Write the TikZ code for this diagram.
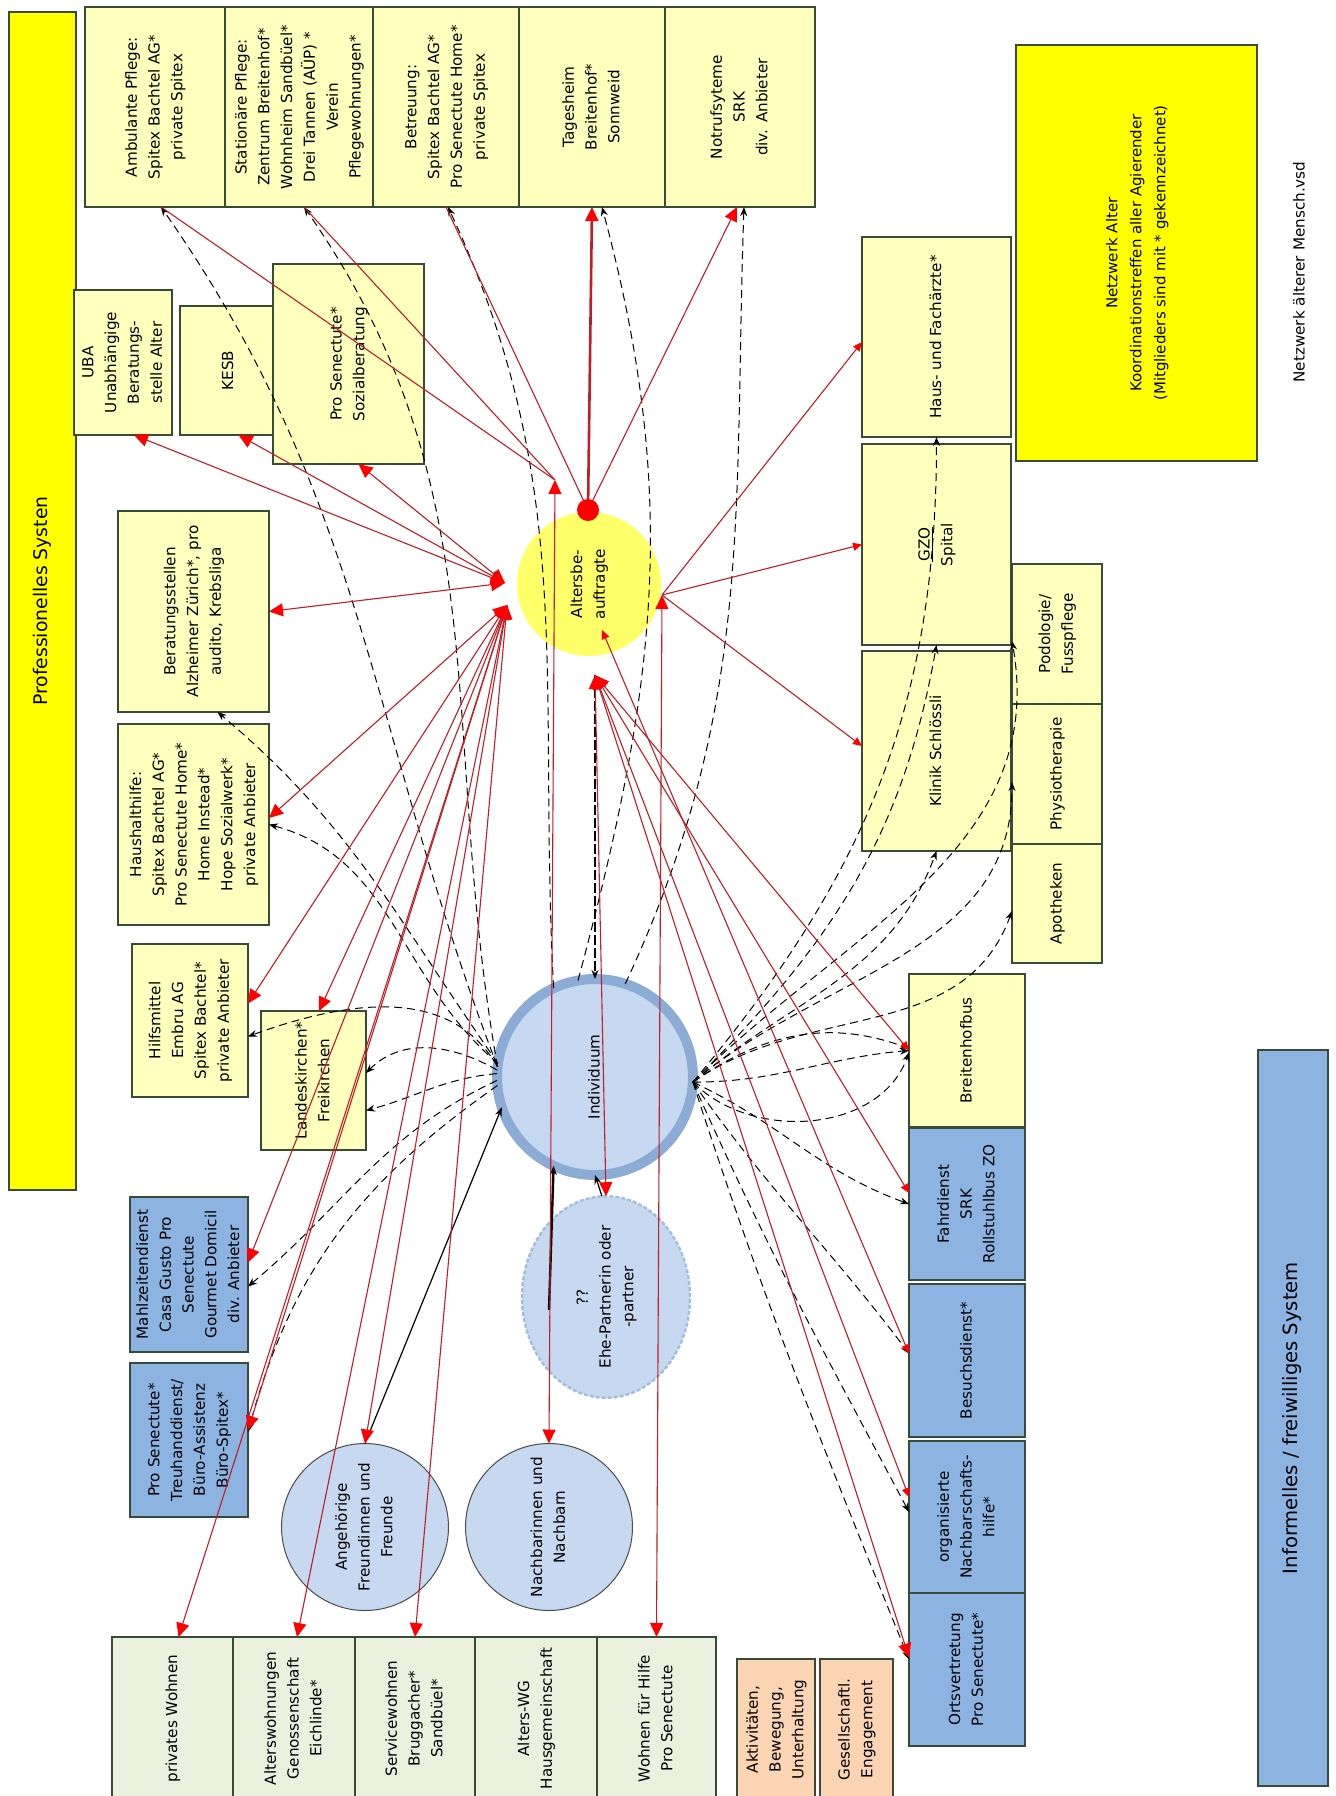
\documentclass[tikz,border=0pt]{standalone}
\usepackage{fontspec}
\usepackage{graphicx}
\setmainfont{DejaVu Sans}
\usetikzlibrary{arrows.meta,shapes.geometric,calc}
\definecolor{lyel}{RGB}{255,255,190}
\definecolor{byel}{RGB}{255,255,0}
\definecolor{mblue}{RGB}{141,179,226}
\definecolor{lblue}{RGB}{198,217,241}
\definecolor{ringb}{RGB}{140,172,214}
\definecolor{lgrn}{RGB}{235,241,222}
\definecolor{peach}{RGB}{251,212,180}
\definecolor{bline}{RGB}{55,75,55}
\definecolor{rcol}{RGB}{190,30,40}
\definecolor{aelc}{RGB}{255,255,105}
\newcommand{\rtxt}[1]{\rotatebox{90}{\begin{tabular}{@{}c@{}}#1\end{tabular}}}
\begin{document}
\begin{tikzpicture}[x=0.5pt,y=-0.5pt,
  bx/.style={draw=bline,line width=0.6pt,inner sep=0pt,outer sep=0pt,font=\fontsize{7.6}{11.4}\selectfont},
  rl/.style={draw=rcol,line width=0.55pt},
  dl/.style={draw=black,line width=0.5pt,dash pattern=on 4pt off 2.5pt},
  bl/.style={draw=black,line width=0.6pt},
  thd/.style={draw=black,line width=1.4pt,dash pattern=on 5pt off 1.5pt},
  ctext/.style={inner sep=0pt,font=\fontsize{7.6}{11.4}\selectfont},
  rtp/.tip={Triangle[length=7pt,width=6.5pt,color=red,fill=red]},
  rts/.tip={Triangle[length=4.5pt,width=4pt,color=red,fill=red]},
  btp/.tip={Stealth[length=4.5pt,width=3.5pt,color=black,fill=black]}
]
\useasboundingbox (0,0) rectangle (1335,1796);
\fill[white] (0,0) rectangle (1335,1796);

% professional bar
\node[bx,fill=byel,minimum width=33.5pt,minimum height=589pt,font=\fontsize{9.4}{12}\selectfont] (prof) at (42.5,601) {\rtxt{Professionelles Systen}};

% top row
\node[bx,fill=lyel,minimum width=70pt,minimum height=100pt] (amb) at (155,107) {\rtxt{Ambulante Pflege:\\Spitex Bachtel AG*\\private Spitex}};
\node[bx,fill=lyel,minimum width=74pt,minimum height=100pt] (stat) at (299,107) {\rtxt{Stationäre Pflege:\\Zentrum Breitenhof*\\Wohnheim Sandbüel*\\Drei Tannen (AÜP) *\\Verein\\Pflegewohnungen*}};
\node[bx,fill=lyel,minimum width=73pt,minimum height=100pt] (betr) at (446,107) {\rtxt{Betreuung:\\Spitex Bachtel AG*\\Pro Senectute Home*\\private Spitex}};
\node[bx,fill=lyel,minimum width=73pt,minimum height=100pt] (tag) at (592,107) {\rtxt{Tagesheim\\Breitenhof*\\Sonnweid}};
\node[bx,fill=lyel,minimum width=75pt,minimum height=100pt] (notr) at (740,107) {\rtxt{Notrufsyteme\\SRK\\div. Anbieter}};

% left middle
\node[bx,fill=lyel,minimum width=49pt,minimum height=72.5pt] (uba) at (123,362.5) {\rtxt{UBA\\Unabhängige\\Beratungs-\\stelle Alter}};
\node[bx,fill=lyel,minimum width=48.5pt,minimum height=64.5pt] (kesb) at (228.5,370.5) {\rtxt{KESB}};
\node[bx,fill=lyel,minimum width=75.5pt,minimum height=100pt] (soz) at (348.5,364) {\rtxt{Pro Senectute*\\Sozialberatung}};
\node[bx,fill=lyel,minimum width=75.5pt,minimum height=100.5pt] (berat) at (193.5,611.5) {\rtxt{Beratungsstellen\\Alzheimer Zürich*, pro\\audito, Krebsliga}};
\node[bx,fill=lyel,minimum width=75.5pt,minimum height=100.5pt] (haush) at (193.5,824.5) {\rtxt{Haushalthilfe:\\Spitex Bachtel AG*\\Pro Senectute Home*\\Home Instead*\\Hope Sozialwerk*\\private Anbieter}};
\node[bx,fill=lyel,minimum width=58pt,minimum height=76.5pt] (hilfs) at (190,1020.5) {\rtxt{Hilfsmittel\\Embru AG\\Spitex Bachtel*\\private Anbieter}};
\node[bx,fill=lyel,minimum width=52.5pt,minimum height=69.5pt] (landk) at (313.5,1080.5) {\rtxt{Landeskirchen*\\Freikirchen}};
\node[bx,fill=mblue,minimum width=59pt,minimum height=77.5pt] (mahl) at (189,1274.5) {\rtxt{Mahlzeitendienst\\Casa Gusto Pro\\Senectute\\Gourmet Domicil\\div. Anbieter}};
\node[bx,fill=mblue,minimum width=59pt,minimum height=77pt] (treu) at (189,1440) {\rtxt{Pro Senectute*\\Treuhanddienst/\\Büro-Assistenz\\Büro-Spitex*}};

% bottom row
\node[bx,fill=lgrn,minimum width=60.5pt,minimum height=81.5pt] (privw) at (172.5,1718.5) {\rtxt{privates Wohnen}};
\node[bx,fill=lgrn,minimum width=61pt,minimum height=81.5pt] (altw) at (294,1718.5) {\rtxt{Alterswohnungen\\Genossenschaft\\Eichlinde*}};
\node[bx,fill=lgrn,minimum width=60pt,minimum height=81.5pt] (servw) at (415,1718.5) {\rtxt{Servicewohnen\\Bruggacher*\\Sandbüel*}};
\node[bx,fill=lgrn,minimum width=61pt,minimum height=81.5pt] (wg) at (536,1718.5) {\rtxt{Alters-WG\\Hausgemeinschaft}};
\node[bx,fill=lgrn,minimum width=59.5pt,minimum height=81.5pt] (wfh) at (656.5,1718.5) {\rtxt{Wohnen für Hilfe\\Pro Senectute}};
\node[bx,fill=peach,minimum width=39pt,minimum height=70.5pt] (akt) at (776,1729.5) {\rtxt{Aktivitäten,\\Bewegung,\\Unterhaltung}};
\node[bx,fill=peach,minimum width=36.5pt,minimum height=70.5pt] (ges) at (856.5,1729.5) {\rtxt{Gesellschaftl.\\Engagement}};

% right column
\node[bx,fill=lyel,minimum width=58pt,minimum height=76.5pt] (bbus) at (967,1050.5) {\rtxt{Breitenhofbus}};
\node[bx,fill=mblue,minimum width=58pt,minimum height=76pt] (fahr) at (967,1204) {\rtxt{Fahrdienst\\SRK\\Rollstuhlbus ZO}};
\node[bx,fill=mblue,minimum width=58pt,minimum height=76.5pt] (besu) at (967,1360.5) {\rtxt{Besuchsdienst*}};
\node[bx,fill=mblue,minimum width=58pt,minimum height=76pt] (onh) at (967,1517) {\rtxt{organisierte\\Nachbarschafts-\\hilfe*}};
\node[bx,fill=mblue,minimum width=58pt,minimum height=76.5pt] (orts) at (967,1669.5) {\rtxt{Ortsvertretung\\Pro Senectute*}};
\node[bx,fill=mblue,minimum width=35pt,minimum height=368pt,font=\fontsize{9.8}{12}\selectfont] (info) at (1293,1418) {\rtxt{Informelles / freiwilliges System}};

% medical
\node[bx,fill=lyel,minimum width=74.5pt,minimum height=100pt] (aerz) at (936.5,337) {\rtxt{Haus- und Fachärzte*}};
\node[bx,fill=lyel,minimum width=74.5pt,minimum height=100.5pt] (gzo) at (936.5,544.5) {\rtxt{\underline{GZO}\\Spital}};
\node[bx,fill=lyel,minimum width=74.5pt,minimum height=100pt] (klin) at (936.5,751) {\rtxt{Klinik Schlössli}};
\node[bx,fill=lyel,minimum width=45pt,minimum height=70pt] (podo) at (1057,634) {\rtxt{Podologie/\\Fusspflege}};
\node[bx,fill=lyel,minimum width=45pt,minimum height=70pt] (phys) at (1057,774) {\rtxt{Physiotherapie}};
\node[bx,fill=lyel,minimum width=45pt,minimum height=59.5pt] (apo) at (1057,903.5) {\rtxt{Apotheken}};
\node[bx,fill=byel,minimum width=120.5pt,minimum height=208pt,font=\fontsize{7.5}{12}\selectfont] (netz) at (1136.5,253) {\rtxt{Netzwerk Alter\\Koordinationstreffen aller Agierender\\(Mitglieders sind mit * gekennzeichnet)}};
\node[ctext] (vsd) at (1300,272) {\rtxt{Netzwerk älterer Mensch.vsd}};

% circles
\node[circle,fill=aelc,minimum size=72pt,inner sep=0pt,outer sep=0pt,font=\fontsize{7.6}{11.4}\selectfont] (aelt) at (589,584) {\rtxt{Altersbe-\\auftragte}};
\node[circle,draw=ringb,line width=5pt,fill=lblue,minimum size=98pt,inner sep=0pt,outer sep=0pt,font=\fontsize{7.6}{11.4}\selectfont] (indiv) at (595,1077) {\rtxt{Individuum}};
\node[ellipse,draw=ringb!80,fill=lblue,line width=1.2pt,dash pattern=on 2pt off 1pt,minimum width=84pt,minimum height=90pt,inner sep=0pt,outer sep=0pt,font=\fontsize{7.6}{11.4}\selectfont] (ehe) at (606,1297) {\rtxt{??\\Ehe-Partnerin oder\\-partner}};
\node[circle,draw=black!70,fill=lblue,line width=0.5pt,minimum size=83.5pt,inner sep=0pt,outer sep=0pt,font=\fontsize{7.6}{11.4}\selectfont] (angeh) at (365,1527) {\rtxt{Angehörige\\Freundinnen und\\Freunde}};
\node[circle,draw=black!70,fill=lblue,line width=0.5pt,minimum size=83.5pt,inner sep=0pt,outer sep=0pt,font=\fontsize{7.6}{11.4}\selectfont] (nachb) at (549,1527) {\rtxt{Nachbarinnen und\\Nachbarn}};

% hubs
\coordinate (hTL) at (555,480);
\coordinate (hL1) at (505,583);
\coordinate (hL2) at (507,605);
\coordinate (hB) at (595,675);
\coordinate (hR) at (662,595);
\coordinate (hIn) at (602,630);
\coordinate (nbk) at (549,1310);

% black solid / thick dashed
\draw[bl,line width=1.2pt,-btp] (nbk) -- (indiv.245);
\draw[bl,-btp] (angeh.north) -- (indiv.198);
\draw[bl,-btp] ([xshift=-2pt]ehe.north) -- (indiv.-90);
\draw[thd,-btp] (hB) -- (indiv.north);

% dashed, left and top
\draw[dl,-btp] (indiv.174) to[out=111,in=-55] ([xshift=3pt]amb.south);
\draw[dl,-btp] (indiv.174) to[out=100,in=-55] ([xshift=2.5pt]stat.south);
\draw[dl,-btp] (indiv.115) to[out=93,in=-65] ([xshift=1pt]betr.south);
\draw[dl,-btp] (indiv.100) to[out=75,in=-75] ([xshift=5pt]tag.south);
\draw[dl,-btp] (indiv.72) to[out=65,in=-92] ([xshift=2pt]notr.south);
\draw[dl,-btp] (indiv.172) to[out=125,in=-40] ([xshift=12pt]berat.south);
\draw[dl,-btp] (indiv.172) to[out=140,in=-15] (haush.east);
\draw[dl,-btp] (indiv.174) to[out=120,in=20] ([yshift=-8pt]hilfs.east);
\draw[dl,-btp] (indiv.176) to[out=150,in=45] ([yshift=3.75pt]landk.east);
\draw[dl,-btp] (indiv.178) to[out=185,in=15] ([yshift=-15pt]landk.east);
\draw[dl,-btp] (indiv.182) to[out=205,in=40] ([yshift=-6pt]mahl.east);
\draw[dl,-btp] (indiv.185) to[out=215,in=75] ([yshift=4pt]treu.east);

% dashed, right
\draw[dl,-btp] (indiv.-3) to[out=50,in=-90] (aerz.south);
\draw[dl,-btp] (indiv.-3) to[out=45,in=-100] (gzo.south);
\draw[dl,-btp] (indiv.-3) to[out=40,in=-110] (klin.south);
\draw[dl,-btp] (indiv.-3) to[out=45,in=-80] ([yshift=-3.5pt]podo.west);
\draw[dl,-btp] (indiv.-3) to[out=40,in=-90] ([yshift=-4pt]phys.west);
\draw[dl,-btp] (indiv.-3) to[out=35,in=-110] ([yshift=-3.75pt]apo.west);
\draw[dl,-btp] (indiv.-3) to[out=35,in=160] ([yshift=1pt]bbus.west);
\draw[dl,-btp] (indiv.-3) to[out=0,in=185] (bbus.west);
\draw[dl,-btp] (indiv.-3) to[out=-45,in=-110] ([yshift=-1pt]bbus.west);
\draw[dl,-btp] (indiv.-3) to[out=-25,in=160] (fahr.west);
\draw[dl,-btp] (indiv.-3) to[out=-55,in=127] ([yshift=3.5pt]besu.west);
\draw[dl,-btp] (indiv.-3) to[out=-66,in=118] ([yshift=2.5pt]onh.west);
\draw[dl,-btp] (indiv.-3) to[out=-72,in=112] ([yshift=5pt]orts.west);

% red dot
\node[circle,fill=red,minimum size=11pt,inner sep=0pt,outer sep=0pt] (rdot) at (588,510) {};

% red connectors
\draw[rl,line width=1.3pt,-rtp] (rdot) -- (tag.south);
\draw[rl] (rdot) -- (betr.south);
\draw[rl,-rtp] (rdot) -- ([xshift=-1.5pt]notr.south);

\draw[rl] (hTL) -- ([xshift=3pt]amb.south);
\draw[rl] (hTL) -- ([xshift=2.5pt]stat.south);
\draw[rl,rtp-rtp] (hTL) -- (nachb.north);

\draw[rl,rtp-rtp] (hL1) -- ([xshift=5.5pt]uba.south);
\draw[rl,rtp-rtp] (hL1) -- ([xshift=5pt]kesb.south);
\draw[rl,rtp-rtp] (hL1) -- ([xshift=5pt]soz.south);
\draw[rl,rtp-rtp] (hL1) -- (berat.east);

\draw[rl,rtp-rtp] (hL2) -- ([yshift=3.25pt]haush.east);
\draw[rl,rtp-rtp] (hL2) -- ([yshift=8.5pt]hilfs.east);
\draw[rl,rtp-rtp] (hL2) -- ([xshift=2.75pt]landk.north);
\draw[rl,rtp-rtp] (hL2) -- ([yshift=6pt]mahl.east);
\draw[rl,rtp-rtp] (hL2) -- ([yshift=5pt]treu.east);
\draw[rl,rtp-rtp] (hL2) -- (angeh.north);
\draw[rl,rtp-rtp] (hL2) -- ([xshift=3pt]privw.north);
\draw[rl,rtp-rtp] (hL2) -- ([xshift=1.5pt]altw.north);
\draw[rl,rtp-rtp] (hL2) -- (servw.north);

\draw[rl,rtp-rtp] (hB) -- (ehe.north);
\draw[rl,rtp-rts] (hB) -- (bbus.west);
\draw[rl,rtp-rts] (hB) -- ([yshift=5.5pt]fahr.west);
\draw[rl,rtp-rts] (hB) -- ([yshift=10pt]onh.west);
\draw[rl,rtp-rtp] (hB) -- ([yshift=6pt]orts.west);
\draw[rl,rts-rts] (hIn) -- ([yshift=3.5pt]besu.west);

\draw[rl,-rts] (hR) -- ([yshift=-2.5pt]aerz.west);
\draw[rl,-rts] (hR) -- (gzo.west);
\draw[rl,-rts] (hR) -- ([yshift=2.5pt]klin.west);
\draw[rl,rtp-rtp] (hR) -- (wfh.north);
\end{tikzpicture}
\end{document}
